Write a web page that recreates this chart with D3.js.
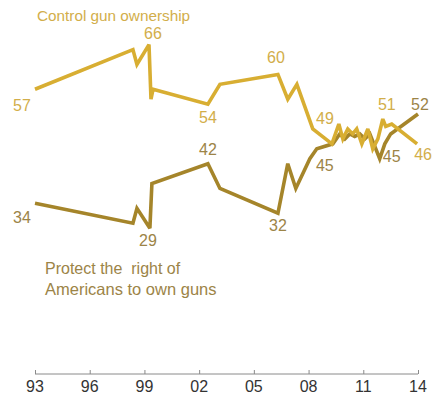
<!DOCTYPE html>
<html><head><meta charset="utf-8">
<script src="https://cdn.jsdelivr.net/npm/d3@7"></script>
<style>
html,body{margin:0;padding:0;background:#fff;}
svg{display:block;}
text{font-family:"Liberation Sans",Arial,sans-serif;}
</style></head>
<body><svg id="c" width="433" height="400"></svg>
<script>
// ---- data ----
const controlYears = [1993.0,1998.37,1998.59,1999.25,1999.36,1999.47,2002.48,2003.14,2006.32,2006.86,2007.36,2008.23,2009.28,2009.66,2009.88,2010.15,2010.42,2010.64,2010.92,2011.25,2011.52,2011.8,2012.07,2012.23,2012.56,2013.95];
const controlValues = [57,65,62,66,55,57,54,58,60,55,58,49,46,50,47,49,48,49,46,49,45,47,51,49.5,50,46];
const rightsYears = [1993.0,1998.37,1998.59,1999.3,1999.41,2002.48,2003.14,2006.32,2006.86,2007.3,2008.07,2008.45,2009.33,2009.71,2009.99,2010.26,2010.53,2010.81,2011.08,2011.36,2011.9,2012.18,2012.5,2014.0];
const rightsValues = [34,30,33,29,38,42,37,32,42,37,43,45,46,48,47,48,47.5,48,47,48,43,46,48,52];
const tickYears = [1993,1996,1999,2002,2005,2008,2011,2014];
const tickLabels = ["93","96","99","02","05","08","11","14"];
// labels: [point index, text]
const controlLabels = [[0,"57"],[3,"66"],[6,"54"],[8,"60"],[12,"49"],[22,"51"],[25,"46"]];
const rightsLabels = [[0,"34"],[3,"29"],[5,"42"],[7,"32"],[11,"45"],[20,"45"],[23,"52"]];

// ---- chart ----
const svg = d3.select("#c");
const x = d3.scaleLinear().domain([1993,2014]).range([35,418]);
const y = d3.scaleLinear().domain([0,70]).range([372,24.8]);

const cCol = "#D8AE32", rCol = "#A5852A";
const cText = "#D2AE4A", rText = "#9C8447";

const line = d3.line().x(d=>x(d[0])).y(d=>y(d[1])).curve(d3.curveLinear);
const cData = controlYears.map((t,i)=>[t,controlValues[i]]);
const rData = rightsYears.map((t,i)=>[t,rightsValues[i]]);

svg.append("path").datum(rData).attr("d",line).attr("fill","none")
  .attr("stroke",rCol).attr("stroke-width",3.6).attr("stroke-linejoin","miter").attr("stroke-miterlimit",3);
svg.append("path").datum(cData).attr("d",line).attr("fill","none")
  .attr("stroke",cCol).attr("stroke-width",3.6).attr("stroke-linejoin","miter").attr("stroke-miterlimit",3);

// axis
const axis = d3.axisTop(x).tickValues(tickYears).tickSize(4).tickFormat("");
const ag = svg.append("g").attr("transform","translate(0,374)").call(axis);
ag.select(".domain").attr("stroke","#8a8a8a").attr("d","M35,0H418");
ag.selectAll(".tick line").attr("stroke","#8a8a8a");
svg.append("g").selectAll("text").data(tickYears).join("text")
  .attr("x",d=>x(d)).attr("y",392).attr("text-anchor","middle")
  .attr("font-size",16).attr("fill","#333").text((d,i)=>tickLabels[i]);

// value labels, offsets from their points
const cOff = {0:[-13,22],3:[4,-6],6:[0,19],8:[-2,-11],12:[-7,-20],22:[4,-9],25:[6,16]};
const rOff = {0:[-13,20],3:[-2,18],5:[0,-9],7:[0,18],11:[8,22],20:[12,3],23:[2,-4]};
svg.append("g").selectAll("text").data(controlLabels).join("text")
  .attr("x",d=>x(controlYears[d[0]])+cOff[d[0]][0])
  .attr("y",d=>y(controlValues[d[0]])+cOff[d[0]][1])
  .attr("text-anchor","middle").attr("font-size",16).attr("fill",cText).text(d=>d[1]);
svg.append("g").selectAll("text").data(rightsLabels).join("text")
  .attr("x",d=>x(rightsYears[d[0]])+rOff[d[0]][0])
  .attr("y",d=>y(rightsValues[d[0]])+rOff[d[0]][1])
  .attr("text-anchor","middle").attr("font-size",16).attr("fill",rText).text(d=>d[1]);

// series titles
svg.append("text").attr("x",37).attr("y",21).attr("font-size",15.3).attr("fill",cText).text("Control gun ownership");
svg.append("text").attr("x",45).attr("y",274).attr("font-size",16).attr("fill",rText)
  .style("white-space","pre").text("Protect the  right of");
svg.append("text").attr("x",45).attr("y",295).attr("font-size",16.5).attr("fill",rText).text("Americans to own guns");
</script></body></html>
